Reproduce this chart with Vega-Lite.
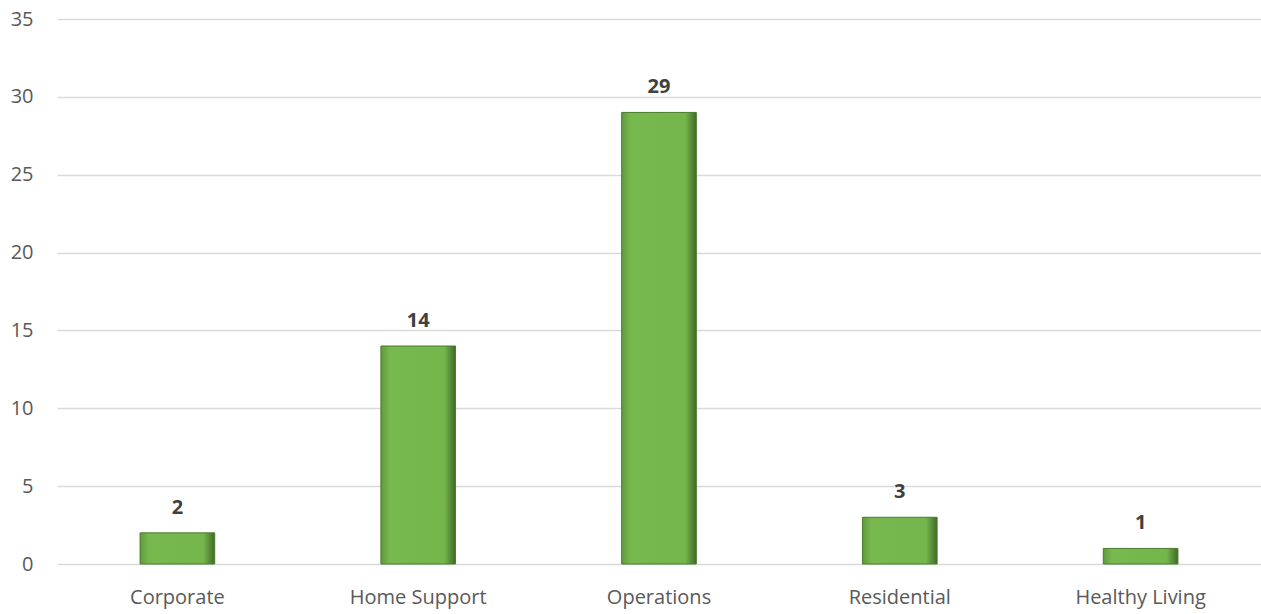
{
  "$schema": "https://vega.github.io/schema/vega-lite/v6.json",
  "autosize": {"type": "none"},
  "width": 1204,
  "height": 545,
  "padding": {"left": 57, "top": 19, "right": 0, "bottom": 50},
  "background": "white",
  "config": {"view": {"stroke": null}, "font": "Open Sans"},
  "data": {"values": [
    {"dept": "Corporate", "count": 2},
    {"dept": "Home Support", "count": 14},
    {"dept": "Operations", "count": 29},
    {"dept": "Residential", "count": 3},
    {"dept": "Healthy Living", "count": 1}
  ]},
  "encoding": {
    "x": {"field": "dept", "type": "nominal", "sort": null,
      "scale": {"paddingInner": 0.69, "paddingOuter": 0.345},
      "axis": {"title": null, "labelAngle": 0, "labelFontSize": 20, "labelColor": "#595959", "labelPadding": 23, "ticks": false, "domain": false, "grid": false, "labelFont": "Open Sans"}},
    "y": {"field": "count", "type": "quantitative",
      "scale": {"domain": [0, 35], "nice": false},
      "axis": {"title": null, "values": [0,5,10,15,20,25,30,35], "labelFontSize": 20, "labelColor": "#595959", "labelPadding": 24, "ticks": false, "domain": false, "gridColor": "#d9d9d9", "gridWidth": 1.3, "labelFont": "Open Sans"}}
  },
  "layer": [
    {"mark": {"type": "bar", "color": {"gradient": "linear", "x1": 0, "x2": 1, "y1": 0, "y2": 0, "stops": [{"offset": 0, "color": "#5f9a3c"}, {"offset": 0.12, "color": "#78b94f"}, {"offset": 0.85, "color": "#75b64c"}, {"offset": 1, "color": "#3f6a26"}]}, "stroke": "#4a7a2e", "strokeWidth": 1}},
    {"mark": {"type": "text", "baseline": "bottom", "dy": -15, "fontSize": 20, "fontWeight": "bold", "color": "#404040", "font": "Open Sans"},
      "encoding": {"text": {"field": "count", "type": "quantitative"}}}
  ]
}
